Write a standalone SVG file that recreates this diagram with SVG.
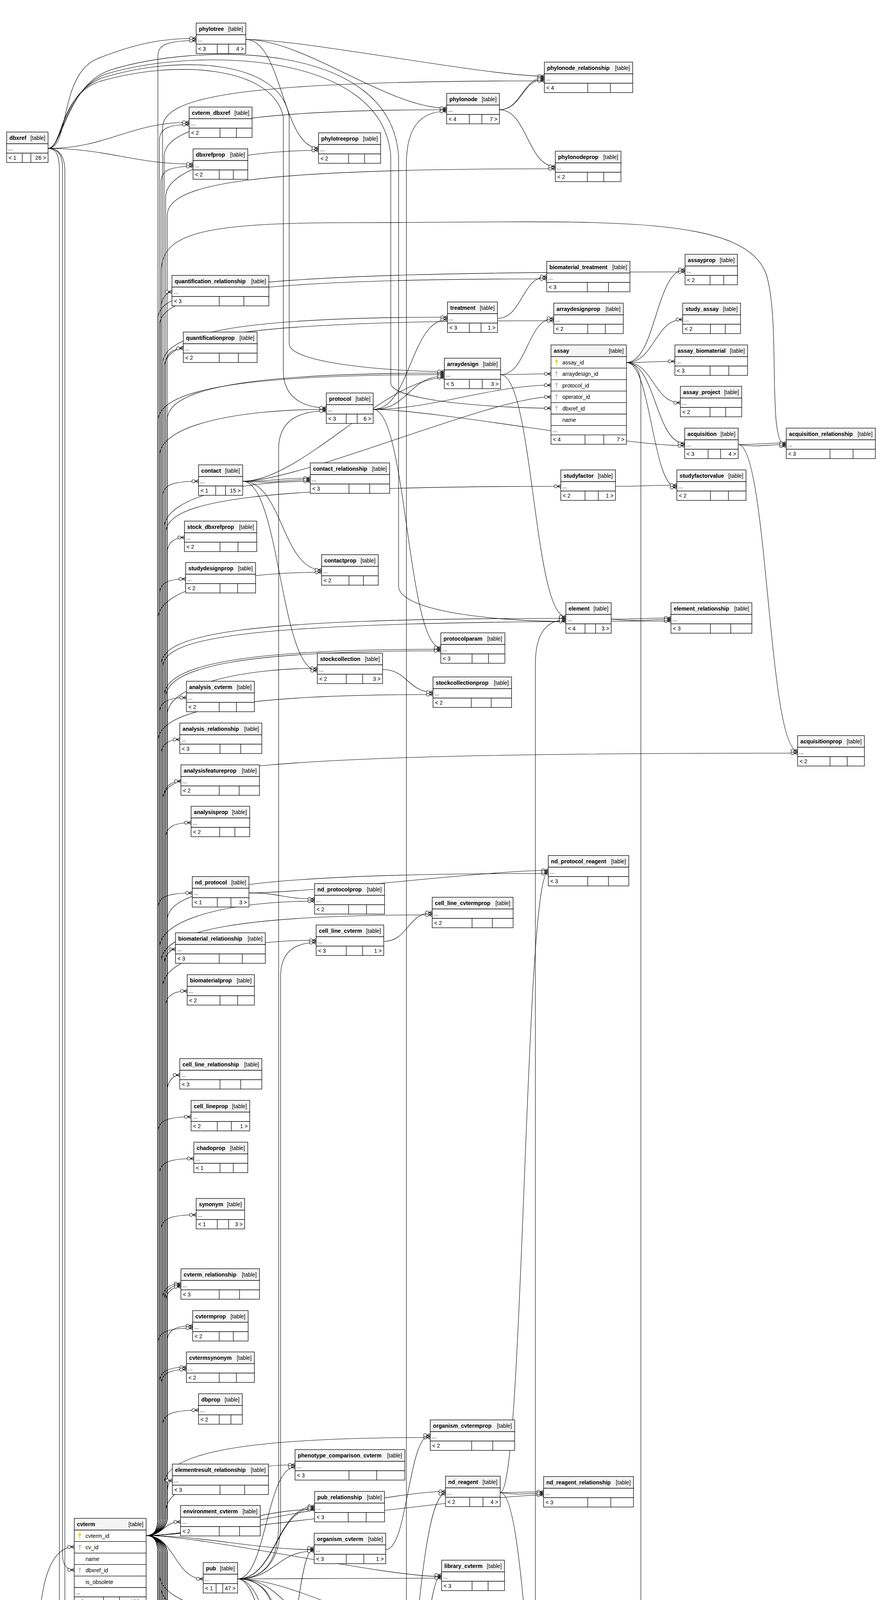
<svg xmlns="http://www.w3.org/2000/svg" xmlns:xlink="http://www.w3.org/1999/xlink" width="2257" height="7407" viewBox="0 0 2257 7407">
<style>
.hd{fill:#f4f4f4;stroke:#000;stroke-width:1.3}
.bd{fill:#fff;stroke:#000;stroke-width:1.3}
.ln{fill:none;stroke:#000;stroke-width:1.3}
text{font-family:"Liberation Sans",Arial,Helvetica,sans-serif;font-size:14px;fill:#000}
.tn{font-weight:bold;font-size:14.2px}
.tt,.tr{text-anchor:end}
#connectors path{fill:none;stroke:#000;stroke-width:1.1;marker-end:url(#cf)}
</style>
<defs>
<marker id="cf" markerUnits="userSpaceOnUse" viewBox="-19 -7 20 14" refX="0" refY="0" markerWidth="20" markerHeight="14" orient="auto" overflow="visible">
<path d="M-9 0L0 -4.5M-9 0L0 0M-9 0L0 4.5" fill="none" stroke="#000" stroke-width="1.2"/>
<circle cx="-13" cy="0" r="4" fill="#fff" stroke="#000" stroke-width="1.2"/>
</marker>
<g id="pk"><circle r="3.2" fill="#e6d800"/><path d="M0 2V11" stroke="#e6d800" stroke-width="2"/></g>
<g id="fk"><circle r="3.2" fill="#c4c4c4"/><path d="M0 2V11" stroke="#c4c4c4" stroke-width="2"/></g>
</defs>
<rect width="2257" height="7407" fill="#fff"/>
<g id="connectors">
<path d="M374 3931C396 3931 404 3915 404 3885V144C404 116 424 104 502 104"/>
<path d="M374 3931C396 3931 408 3915 408 3885V359C408 331 428 319 484 319"/>
<path d="M374 3931C396 3931 412 3915 412 3885V466C412 438 432 426 494 426"/>
<path d="M374 3931C396 3931 416 3915 416 3885V327C416 247 616 207 1393 207"/>
<path d="M374 3931C396 3931 420 3915 420 3885V401C420 321 620 281 1143 281"/>
<path d="M374 3931C396 3931 424 3915 424 3885V505C424 425 624 385 815 385"/>
<path d="M374 3931C396 3931 428 3915 428 3885V552C428 472 628 432 1421 432"/>
<path d="M374 3931C396 3931 404 3915 404 3885V816C404 736 604 696 1753 696"/>
<path d="M374 3931C396 3931 408 3915 408 3885V834C408 754 608 714 1399 714"/>
<path d="M374 3931C396 3931 412 3915 412 3885V787C412 759 432 747 440 747"/>
<path d="M374 3931C396 3931 416 3915 416 3885V932C416 852 616 812 1145 812"/>
<path d="M374 3931C396 3931 420 3915 420 3885V941C420 861 620 821 1417 821"/>
<path d="M374 3931C396 3931 424 3915 424 3885V932C424 904 444 892 469 892"/>
<path d="M374 3931C396 3931 428 3915 428 3885V1075C428 995 628 955 1137 955"/>
<path d="M374 3931C396 3931 404 3915 404 3885V1079C404 999 604 959 1137 959"/>
<path d="M374 3931C396 3931 408 3915 408 3885V1168C408 1088 608 1048 835 1048"/>
<path d="M374 3931C396 3931 412 3915 412 3885V700C412 600 500 570 900 570C1500 570 1900 540 1960 700C2000 820 1960 1142 2012 1142"/>
<path d="M374 3931C396 3931 416 3915 416 3885V1272C416 1244 436 1232 508 1232"/>
<path d="M374 3931C396 3931 420 3915 420 3885V1352C420 1272 620 1232 794 1232"/>
<path d="M374 3931C396 3931 424 3915 424 3885V1365C424 1285 624 1245 1435 1245"/>
<path d="M374 3931C396 3931 428 3915 428 3885V1416C428 1388 448 1376 472 1376"/>
<path d="M374 3931C396 3931 404 3915 404 3885V1585C404 1505 604 1465 823 1465"/>
<path d="M374 3931C396 3931 408 3915 408 3885V1522C408 1494 428 1482 475 1482"/>
<path d="M374 3931C396 3931 412 3915 412 3885V1703C412 1623 612 1583 1448 1583"/>
<path d="M374 3931C396 3931 416 3915 416 3885V1710C416 1630 616 1590 1717 1590"/>
<path d="M374 3931C396 3931 420 3915 420 3885V1782C420 1702 620 1662 1128 1662"/>
<path d="M374 3931C396 3931 424 3915 424 3885V1786C424 1706 624 1666 1128 1666"/>
<path d="M374 3931C396 3931 428 3915 428 3885V1831C428 1751 628 1711 812 1711"/>
<path d="M374 3931C396 3931 404 3915 404 3885V1898C404 1818 604 1778 1108 1778"/>
<path d="M374 3931C396 3931 408 3915 408 3885V1826C408 1798 428 1786 477 1786"/>
<path d="M374 3931C396 3931 412 3915 412 3885V1933C412 1905 432 1893 460 1893"/>
<path d="M374 3931C396 3931 416 3915 416 3885V2048C416 1968 616 1928 2041 1928"/>
<path d="M374 3931C396 3931 420 3915 420 3885V2040C420 2012 440 2000 463 2000"/>
<path d="M374 3931C396 3931 424 3915 424 3885V2146C424 2118 444 2106 489 2106"/>
<path d="M374 3931C396 3931 428 3915 428 3885V2356C428 2276 628 2236 1403 2236"/>
<path d="M374 3931C396 3931 404 3915 404 3885V2326C404 2298 424 2286 492 2286"/>
<path d="M374 3931C396 3931 408 3915 408 3885V2427C408 2347 608 2307 805 2307"/>
<path d="M374 3931C396 3931 412 3915 412 3885V2462C412 2382 612 2342 1106 2342"/>
<path d="M374 3931C396 3931 416 3915 416 3885V2527C416 2447 616 2407 809 2407"/>
<path d="M374 3931C396 3931 420 3915 420 3885V2470C420 2442 440 2430 449 2430"/>
<path d="M374 3931C396 3931 424 3915 424 3885V2577C424 2549 444 2537 479 2537"/>
<path d="M374 3931C396 3931 428 3915 428 3885V2792C428 2764 448 2752 460 2752"/>
<path d="M374 3931C396 3931 404 3915 404 3885V2899C404 2871 424 2859 489 2859"/>
<path d="M374 3931C396 3931 408 3915 408 3885V3006C408 2978 428 2966 496 2966"/>
<path d="M374 3931C396 3931 412 3915 412 3885V3150C412 3122 432 3110 502 3110"/>
<path d="M374 3931C396 3931 416 3915 416 3885V3326C416 3298 436 3286 463 3286"/>
<path d="M374 3931C396 3931 420 3915 420 3885V3330C420 3302 440 3290 463 3290"/>
<path d="M374 3931C396 3931 424 3915 424 3885V3334C424 3306 444 3294 463 3294"/>
<path d="M374 3931C396 3931 428 3915 428 3885V3434C428 3406 448 3394 493 3394"/>
<path d="M374 3931C396 3931 404 3915 404 3885V3440C404 3412 424 3400 493 3400"/>
<path d="M374 3931C396 3931 408 3915 408 3885V3540C408 3512 428 3500 477 3500"/>
<path d="M374 3931C396 3931 412 3915 412 3885V3546C412 3518 432 3506 477 3506"/>
<path d="M374 3931C396 3931 416 3915 416 3885V3650C416 3622 436 3610 508 3610"/>
<path d="M374 3931C396 3931 420 3915 420 3885V3800C420 3720 620 3680 1101 3680"/>
<path d="M374 3931C396 3931 424 3915 424 3885V3870C424 3790 624 3750 755 3750"/>
<path d="M374 3931C396 3931 428 3915 428 3885V3830C428 3802 432 3790 441 3790"/>
<path d="M374 3931C520 3931 990 3818 1140 3818"/>
<path d="M374 3931C520 3931 1241 3827 1391 3827"/>
<path d="M374 3931C520 3931 655 3864 805 3864"/>
<path d="M374 3931C418 3931 418 3896 462 3896"/>
<path d="M374 3931C520 3931 654 3967 804 3967"/>
<path d="M374 3931C447 3931 447 4042 520 4042"/>
<path d="M374 3931C520 3931 980 4036 1130 4036"/>
<path d="M374 3931C396 3931 404 3947 404 3977V4107C404 4135 424 4147 479 4147"/>
<path d="M374 3931C396 3931 408 3947 408 3977V4030C408 4110 608 4150 836 4150"/>
<path d="M374 3931C396 3931 412 3947 412 3977V4063C412 4143 612 4183 1132 4183"/>
<path d="M374 3931C396 3931 416 3947 416 3977V4099C416 4179 616 4219 1412 4219"/>
<path d="M374 3931C396 3931 420 3947 420 3977V4323C420 4351 440 4363 452 4363"/>
<path d="M374 3931C396 3931 424 3947 424 3977V4504C424 4532 444 4544 477 4544"/>
<path d="M374 3931C396 3931 428 3947 428 3977V4459C428 4539 628 4579 831 4579"/>
<path d="M374 3931C396 3931 404 3947 404 3977V4473C404 4553 604 4593 1418 4593"/>
<path d="M374 3931C396 3931 408 3947 408 3977V4684C408 4712 428 4724 501 4724"/>
<path d="M374 3931C396 3931 412 3947 412 3977V4638C412 4718 612 4758 813 4758"/>
<path d="M374 3931C396 3931 416 3947 416 3977V4706C416 4786 616 4826 1119 4826"/>
<path d="M374 3931C396 3931 420 3947 420 3977V4863C420 4891 440 4903 480 4903"/>
<path d="M374 3931C396 3931 424 3947 424 3977V4920C424 5000 624 5040 841 5040"/>
<path d="M374 3931C396 3931 428 3947 428 3977V4929C428 5009 628 5049 1110 5049"/>
<path d="M374 3931C396 3931 404 3947 404 3977V5043C404 5071 424 5083 452 5083"/>
<path d="M374 3931C396 3931 408 3947 408 3977V5070C408 5150 608 5190 816 5190"/>
<path d="M374 3931C396 3931 412 3947 412 3977V5151C412 5179 432 5191 467 5191"/>
<path d="M374 3931C396 3931 416 3947 416 3977V5139C416 5219 616 5259 1384 5259"/>
<path d="M374 3931C396 3931 420 3947 420 3977V5177C420 5257 620 5297 782 5297"/>
<path d="M374 3931C396 3931 424 3947 424 3977V5217C424 5297 624 5337 1115 5337"/>
<path d="M374 3931C396 3931 428 3947 428 3977V5327C428 5355 448 5367 468 5367"/>
<path d="M374 3931C396 3931 404 3947 404 3977V5333C404 5361 424 5373 468 5373"/>
<path d="M374 3931C396 3931 408 3947 408 3977V5284C408 5364 608 5404 815 5404"/>
<path d="M374 3931C396 3931 412 3947 412 3977V5322C412 5402 612 5442 1139 5442"/>
<path d="M374 3931C396 3931 416 3947 416 3977V5391C416 5471 616 5511 787 5511"/>
<path d="M374 3931C396 3931 420 3947 420 3977V5510C420 5538 440 5550 501 5550"/>
<path d="M374 3931C396 3931 424 3947 424 3977V5426C424 5506 624 5546 1127 5546"/>
<path d="M374 3931C396 3931 428 3947 428 3977V5479C428 5559 628 5599 1390 5599"/>
<path d="M374 3931C396 3931 404 3947 404 3977V5494C404 5574 604 5614 828 5614"/>
<path d="M374 3931C396 3931 408 3947 408 3977V5537C408 5617 608 5657 1105 5657"/>
<path d="M374 3931C396 3931 412 3947 412 3977V5690C412 5718 432 5730 464 5730"/>
<path d="M374 3931C396 3931 416 3947 416 3977V5643C416 5723 616 5763 1132 5763"/>
<path d="M374 3931C396 3931 420 3947 420 3977V5720C420 5800 620 5840 1407 5840"/>
<path d="M374 3931C396 3931 424 3947 424 3977V5787C424 5867 624 5907 1114 5907"/>
<path d="M374 3931C396 3931 428 3947 428 3977V5814C428 5894 628 5934 845 5934"/>
<path d="M374 3931C396 3931 404 3947 404 3977V5893C404 5973 604 6013 1144 6013"/>
<path d="M374 3931C396 3931 408 3947 408 3977V5958C408 6038 608 6078 1383 6078"/>
<path d="M374 3931C396 3931 412 3947 412 3977V6067C412 6147 612 6187 844 6187"/>
<path d="M374 3931C396 3931 416 3947 416 3977V6074C416 6154 616 6194 1110 6194"/>
<path d="M374 3931C396 3931 420 3947 420 3977V6256C420 6284 440 6296 481 6296"/>
<path d="M374 3931C396 3931 424 3947 424 3977V6179C424 6259 624 6299 780 6299"/>
<path d="M374 3931C396 3931 428 3947 428 3977V6269C428 6349 628 6389 1140 6389"/>
<path d="M374 3931C396 3931 404 3947 404 3977V6286C404 6366 604 6406 796 6406"/>
<path d="M374 3931C396 3931 408 3947 408 3977V6502C408 6582 608 6622 808 6622"/>
<path d="M374 3931C396 3931 412 3947 412 3977V6596C412 6624 432 6636 495 6636"/>
<path d="M374 3931C396 3931 416 3947 416 3977V6571C416 6651 616 6691 1117 6691"/>
<path d="M374 3931C396 3931 420 3947 420 3977V6587C420 6667 620 6707 1695 6707"/>
<path d="M374 3931C396 3931 424 3947 424 3977V6813C424 6841 444 6853 464 6853"/>
<path d="M374 3931C396 3931 428 3947 428 3977V6822C428 6902 628 6942 800 6942"/>
<path d="M374 3931C396 3931 404 3947 404 3977V6919C404 6947 424 6959 494 6959"/>
<path d="M374 3931C396 3931 408 3947 408 3977V7020C408 7048 428 7060 497 7060"/>
<path d="M374 3931C396 3931 412 3947 412 3977V7024C412 7052 432 7064 497 7064"/>
<path d="M374 3931C396 3931 416 3947 416 3977V7028C416 7056 436 7068 497 7068"/>
<path d="M374 3931C396 3931 420 3947 420 3977V7032C420 7060 440 7072 497 7072"/>
<path d="M374 3931C396 3931 424 3947 424 3977V6982C424 7062 624 7102 811 7102"/>
<path d="M374 3931C396 3931 428 3947 428 3977V7167C428 7195 448 7207 495 7207"/>
<path d="M374 3931C396 3931 404 3947 404 3977V7171C404 7199 424 7211 495 7211"/>
<path d="M374 3931C396 3931 408 3947 408 3977V7175C408 7203 428 7215 495 7215"/>
<path d="M374 3931C396 3931 412 3947 412 3977V7279C412 7307 432 7319 509 7319"/>
<path d="M123 380C180 380 150 190 250 150C350 110 420 98 502 98"/>
<path d="M123 380C273 380 334 313 484 313"/>
<path d="M123 380C273 380 344 420 494 420"/>
<path d="M123 380C160 380 150 250 250 210C450 150 700 170 725 300V950C725 1020 780 1044 835 1044"/>
<path d="M123 380C160 380 155 240 260 200C450 140 720 150 740 300V880C740 930 1000 951 1137 951"/>
<path d="M123 380C160 380 165 230 270 190C500 120 980 130 1000 400V980C1000 1030 1300 1045 1410 1045"/>
<path d="M123 380C160 380 170 220 280 180C500 110 1000 100 1020 400V1500C1020 1570 1300 1591 1448 1591"/>
<path d="M123 380C150 380 160 400 160 430V3980C160 4005 170 4019 190 4019"/>
<path d="M123 380C152 380 166 400 166 440V4900C166 5000 700 5048 841 5048"/>
<path d="M123 380C146 380 152 400 152 440V5750C152 5880 700 5942 845 5942"/>
<path d="M109 7209C160 7209 200 7150 200 7000V6000C200 5000 100 4600 100 4200C100 4050 130 3960 190 3960"/>
<path d="M109 7209C300 7209 345 7203 495 7203"/>
<path d="M109 7209C300 7209 359 7313 509 7313"/>
<path d="M629 101C779 101 993 277 1143 277"/>
<path d="M629 101C779 101 1243 195 1393 195"/>
<path d="M629 101C722 101 722 379 815 379"/>
<path d="M1278 281C1335 281 1336 199 1393 199"/>
<path d="M1278 281C1335 281 1336 203 1393 203"/>
<path d="M1278 281C1349 281 1350 426 1421 426"/>
<path d="M948 5044C1000 5044 1040 5000 1040 4900V420C1040 320 1080 285 1143 285"/>
<path d="M948 5044C1200 5044 1370 4950 1370 4800V1700C1370 1620 1400 1587 1448 1587"/>
<path d="M948 5044C1044 5044 1044 3824 1140 3824"/>
<path d="M948 5044C1029 5044 1029 5041 1110 5041"/>
<path d="M948 5044C1029 5050 1029 5045 1110 5045"/>
<path d="M948 5044C1033 5044 1034 4814 1119 4814"/>
<path d="M948 5044C1033 5044 1034 4818 1119 4818"/>
<path d="M948 5044C1043 5044 1044 5436 1139 5436"/>
<path d="M948 5044C1038 5044 1037 5542 1127 5542"/>
<path d="M948 5044C1031 5044 1032 5333 1115 5333"/>
<path d="M948 5044C1040 5044 1040 5759 1132 5759"/>
<path d="M627 5550C734 5550 734 5044 841 5044"/>
<path d="M627 5550C721 5550 721 5398 815 5398"/>
<path d="M627 5550C707 5550 707 5503 787 5503"/>
<path d="M627 5550C707 5550 707 5507 787 5507"/>
<path d="M627 5550C716 5550 715 3963 804 3963"/>
<path d="M627 5550C736 5550 736 5938 845 5938"/>
<path d="M627 5550C736 5550 735 6193 844 6193"/>
<path d="M608 4042C680 4042 713 3990 713 3900V1150C713 1080 760 1052 835 1052"/>
<path d="M608 4042C680 4042 718 3990 718 3900V2500C718 2440 750 2413 809 2413"/>
<path d="M608 4042C681 4042 682 3756 755 3756"/>
<path d="M608 4042C706 4042 707 3856 805 3856"/>
<path d="M608 4042C706 4042 707 3860 805 3860"/>
<path d="M608 4042C706 4042 706 3971 804 3971"/>
<path d="M608 4042C758 4042 980 4040 1130 4040"/>
<path d="M608 4042C722 4042 722 4144 836 4144"/>
<path d="M608 4042C758 4042 982 4187 1132 4187"/>
<path d="M608 4042C719 4042 720 4583 831 4583"/>
<path d="M608 4042C710 4042 711 4762 813 4762"/>
<path d="M608 4042C680 4042 713 4100 713 4200V5450C713 5520 1000 5550 1127 5550"/>
<path d="M608 4042C680 4042 708 4100 708 4200V5950C708 6040 1200 6082 1383 6082"/>
<path d="M621 1232C707 1232 708 1224 794 1224"/>
<path d="M621 1232C707 1238 708 1228 794 1228"/>
<path d="M621 1232C722 1232 722 1459 823 1459"/>
<path d="M621 1232C716 1232 717 1717 812 1717"/>
<path d="M621 1232C771 1232 987 967 1137 967"/>
<path d="M621 1232C771 1232 1260 1016 1410 1016"/>
<path d="M955 1048C1050 1048 1050 818 1145 818"/>
<path d="M955 1048C1046 1048 1046 963 1137 963"/>
<path d="M955 1048C1105 1048 1260 986 1410 986"/>
<path d="M955 1048C1105 1048 1602 1141 1752 1141"/>
<path d="M955 1048C1041 1048 1042 1658 1128 1658"/>
<path d="M1273 815C1336 815 1336 708 1399 708"/>
<path d="M1281 959C1349 959 1349 815 1417 815"/>
<path d="M1281 959C1345 959 1346 957 1410 957"/>
<path d="M1281 959C1364 959 1365 1579 1448 1579"/>
<path d="M1603 928C1678 928 1678 690 1753 690"/>
<path d="M1603 928C1675 928 1675 818 1747 818"/>
<path d="M1603 928C1665 928 1665 925 1727 925"/>
<path d="M1603 928C1672 928 1672 1031 1741 1031"/>
<path d="M1603 928C1677 928 1678 1135 1752 1135"/>
<path d="M1603 928C1667 928 1668 1248 1732 1248"/>
<path d="M1603 928C1625 928 1640 950 1640 990V6680C1640 6715 1660 6736 1695 6736"/>
<path d="M1889 1138C1950 1138 1951 1134 2012 1134"/>
<path d="M1889 1138C1950 1146 1951 1138 2012 1138"/>
<path d="M1889 1138C1965 1138 1965 1922 2041 1922"/>
<path d="M1575 1245C1653 1245 1654 1242 1732 1242"/>
<path d="M1564 1585C1640 1585 1641 1582 1717 1582"/>
<path d="M1564 1585C1640 1592 1641 1586 1717 1586"/>
<path d="M979 1714C1043 1714 1044 1772 1108 1772"/>
<path d="M637 2286C721 2286 721 2301 805 2301"/>
<path d="M637 2286C787 2286 1253 2228 1403 2228"/>
<path d="M1280 3821C1341 3821 1342 2232 1403 2232"/>
<path d="M1280 3821C1335 3821 1336 3819 1391 3819"/>
<path d="M1280 3821C1335 3828 1336 3823 1391 3823"/>
<path d="M1280 3821C1349 3821 1349 4587 1418 4587"/>
<path d="M982 2410C1044 2410 1044 2336 1106 2336"/>
<path d="M987 3967C1044 3967 1044 3674 1101 3674"/>
<path d="M1286 4183C1349 4183 1349 4213 1412 4213"/>
<path d="M626 4724C728 4724 729 4575 831 4575"/>
<path d="M626 4724C719 4724 720 4754 813 4754"/>
<path d="M626 4724C776 4724 969 4822 1119 4822"/>
<path d="M626 4724C721 4724 721 5184 816 5184"/>
<path d="M1310 5044C1350 5044 1350 5593 1390 5593"/>
<path d="M661 5370C721 5370 722 5291 782 5291"/>
<path d="M1292 5546C1349 5546 1350 5834 1407 5834"/>
<path d="M961 5614C1038 5614 1038 5329 1115 5329"/>
<path d="M1315 5653C1350 5653 1349 5253 1384 5253"/>
<path d="M943 5938C1028 5938 1029 5899 1114 5899"/>
<path d="M943 5938C1028 5944 1029 5903 1114 5903"/>
<path d="M943 5938C1043 5938 1044 6007 1144 6007"/>
<path d="M943 5938C1037 5938 1038 5755 1132 5755"/>
<path d="M943 5938C1024 5938 1024 5649 1105 5649"/>
<path d="M943 5938C1037 5938 1038 4179 1132 4179"/>
<path d="M943 5938C1030 5938 1030 6683 1117 6683"/>
<path d="M1304 5903C1344 5903 1343 6074 1383 6074"/>
<path d="M948 6190C1029 6190 1029 6186 1110 6186"/>
<path d="M948 6190C1029 6196 1029 6190 1110 6190"/>
<path d="M948 6190C1044 6190 1044 6383 1140 6383"/>
<path d="M948 6190C1039 6190 1039 4032 1130 4032"/>
<path d="M646 6296C713 6296 713 6293 780 6293"/>
<path d="M646 6296C721 6296 721 6400 796 6400"/>
<path d="M646 6296C796 6296 955 5653 1105 5653"/>
<path d="M634 6636C721 6636 721 6616 808 6616"/>
<path d="M634 6636C784 6636 967 6687 1117 6687"/>
<path d="M631 7066C716 7066 715 6936 800 6936"/>
<path d="M631 7066C721 7066 721 7096 811 7096"/>
<path d="M631 7066C722 7066 722 4766 813 4766"/>
<path d="M1605 6891C1650 6891 1650 6766 1695 6766"/>
<path d="M1605 6891C1662 6891 1662 6994 1719 6994"/>
</g>
<g id="t-phylotree" transform="translate(502 59)"><rect class="hd" width="127" height="30"/><rect class="bd" y="30" width="127" height="48"/><path class="ln" d="M0 54H127M54 54V78M83 54V78"/><text class="tn" x="7" y="20">phylotree</text><text class="tt" x="120" y="20">[table]</text><text x="4" y="47">...</text><text x="5" y="71">&lt; 3</text><text class="tr" x="122" y="71">4 &gt;</text></g>
<g id="t-dbxref" transform="translate(17 338)"><rect class="hd" width="106" height="30"/><rect class="bd" y="30" width="106" height="48"/><path class="ln" d="M0 54H106M40 54V78M62 54V78"/><text class="tn" x="7" y="20">dbxref</text><text class="tt" x="99" y="20">[table]</text><text x="4" y="47">...</text><text x="5" y="71">&lt; 1</text><text class="tr" x="101" y="71">26 &gt;</text></g>
<g id="t-cvterm_dbxref" transform="translate(484 274)"><rect class="hd" width="161" height="30"/><rect class="bd" y="30" width="161" height="48"/><path class="ln" d="M0 54H161M79 54V78M121 54V78"/><text class="tn" x="7" y="20">cvterm_dbxref</text><text class="tt" x="154" y="20">[table]</text><text x="4" y="47">...</text><text x="5" y="71">&lt; 2</text></g>
<g id="t-dbxrefprop" transform="translate(494 381)"><rect class="hd" width="140" height="30"/><rect class="bd" y="30" width="140" height="48"/><path class="ln" d="M0 54H140M67 54V78M103 54V78"/><text class="tn" x="7" y="20">dbxrefprop</text><text class="tt" x="133" y="20">[table]</text><text x="4" y="47">...</text><text x="5" y="71">&lt; 2</text></g>
<g id="t-phylotreeprop" transform="translate(815 340)"><rect class="hd" width="159" height="30"/><rect class="bd" y="30" width="159" height="48"/><path class="ln" d="M0 54H159M77 54V78M118 54V78"/><text class="tn" x="7" y="20">phylotreeprop</text><text class="tt" x="152" y="20">[table]</text><text x="4" y="47">...</text><text x="5" y="71">&lt; 2</text></g>
<g id="t-quantification_relationship" transform="translate(440 705)"><rect class="hd" width="248" height="30"/><rect class="bd" y="30" width="248" height="48"/><path class="ln" d="M0 54H248M121 54V78M184 54V78"/><text class="tn" x="7" y="20">quantification_relationship</text><text class="tt" x="241" y="20">[table]</text><text x="4" y="47">...</text><text x="5" y="71">&lt; 3</text></g>
<g id="t-quantificationprop" transform="translate(469 850)"><rect class="hd" width="189" height="30"/><rect class="bd" y="30" width="189" height="48"/><path class="ln" d="M0 54H189M92 54V78M141 54V78"/><text class="tn" x="7" y="20">quantificationprop</text><text class="tt" x="182" y="20">[table]</text><text x="4" y="47">...</text><text x="5" y="71">&lt; 2</text></g>
<g id="t-protocol" transform="translate(835 1006)"><rect class="hd" width="120" height="30"/><rect class="bd" y="30" width="120" height="48"/><path class="ln" d="M0 54H120M51 54V78M79 54V78"/><text class="tn" x="7" y="20">protocol</text><text class="tt" x="113" y="20">[table]</text><text x="4" y="47">...</text><text x="5" y="71">&lt; 3</text><text class="tr" x="115" y="71">6 &gt;</text></g>
<g id="t-contact" transform="translate(508 1190)"><rect class="hd" width="113" height="30"/><rect class="bd" y="30" width="113" height="48"/><path class="ln" d="M0 54H113M44 54V78M69 54V78"/><text class="tn" x="7" y="20">contact</text><text class="tt" x="106" y="20">[table]</text><text x="4" y="47">...</text><text x="5" y="71">&lt; 1</text><text class="tr" x="108" y="71">15 &gt;</text></g>
<g id="t-contact_relationship" transform="translate(794 1185)"><rect class="hd" width="203" height="30"/><rect class="bd" y="30" width="203" height="48"/><path class="ln" d="M0 54H203M99 54V78M152 54V78"/><text class="tn" x="7" y="20">contact_relationship</text><text class="tt" x="196" y="20">[table]</text><text x="4" y="47">...</text><text x="5" y="71">&lt; 3</text></g>
<g id="t-phylonode_relationship" transform="translate(1393 159)"><rect class="hd" width="226" height="30"/><rect class="bd" y="30" width="226" height="48"/><path class="ln" d="M0 54H226M111 54V78M169 54V78"/><text class="tn" x="7" y="20">phylonode_relationship</text><text class="tt" x="219" y="20">[table]</text><text x="4" y="47">...</text><text x="5" y="71">&lt; 4</text></g>
<g id="t-phylonode" transform="translate(1143 239)"><rect class="hd" width="135" height="30"/><rect class="bd" y="30" width="135" height="48"/><path class="ln" d="M0 54H135M58 54V78M90 54V78"/><text class="tn" x="7" y="20">phylonode</text><text class="tt" x="128" y="20">[table]</text><text x="4" y="47">...</text><text x="5" y="71">&lt; 4</text><text class="tr" x="130" y="71">7 &gt;</text></g>
<g id="t-phylonodeprop" transform="translate(1421 387)"><rect class="hd" width="168" height="30"/><rect class="bd" y="30" width="168" height="48"/><path class="ln" d="M0 54H168M82 54V78M124 54V78"/><text class="tn" x="7" y="20">phylonodeprop</text><text class="tt" x="161" y="20">[table]</text><text x="4" y="47">...</text><text x="5" y="71">&lt; 2</text></g>
<g id="t-assayprop" transform="translate(1753 651)"><rect class="hd" width="134" height="30"/><rect class="bd" y="30" width="134" height="48"/><path class="ln" d="M0 54H134M64 54V78M99 54V78"/><text class="tn" x="7" y="20">assayprop</text><text class="tt" x="127" y="20">[table]</text><text x="4" y="47">...</text><text x="5" y="71">&lt; 2</text></g>
<g id="t-biomaterial_treatment" transform="translate(1399 669)"><rect class="hd" width="213" height="30"/><rect class="bd" y="30" width="213" height="48"/><path class="ln" d="M0 54H213M104 54V78M158 54V78"/><text class="tn" x="7" y="20">biomaterial_treatment</text><text class="tt" x="206" y="20">[table]</text><text x="4" y="47">...</text><text x="5" y="71">&lt; 3</text></g>
<g id="t-treatment" transform="translate(1145 773)"><rect class="hd" width="128" height="30"/><rect class="bd" y="30" width="128" height="48"/><path class="ln" d="M0 54H128M56 54V78M86 54V78"/><text class="tn" x="7" y="20">treatment</text><text class="tt" x="121" y="20">[table]</text><text x="4" y="47">...</text><text x="5" y="71">&lt; 3</text><text class="tr" x="123" y="71">1 &gt;</text></g>
<g id="t-arraydesignprop" transform="translate(1417 776)"><rect class="hd" width="178" height="30"/><rect class="bd" y="30" width="178" height="48"/><path class="ln" d="M0 54H178M87 54V78M132 54V78"/><text class="tn" x="7" y="20">arraydesignprop</text><text class="tt" x="171" y="20">[table]</text><text x="4" y="47">...</text><text x="5" y="71">&lt; 2</text></g>
<g id="t-study_assay" transform="translate(1747 776)"><rect class="hd" width="148" height="30"/><rect class="bd" y="30" width="148" height="48"/><path class="ln" d="M0 54H148M71 54V78M109 54V78"/><text class="tn" x="7" y="20">study_assay</text><text class="tt" x="141" y="20">[table]</text><text x="4" y="47">...</text><text x="5" y="71">&lt; 2</text></g>
<g id="t-arraydesign" transform="translate(1137 917)"><rect class="hd" width="144" height="30"/><rect class="bd" y="30" width="144" height="48"/><path class="ln" d="M0 54H144M64 54V78M97 54V78"/><text class="tn" x="7" y="20">arraydesign</text><text class="tt" x="137" y="20">[table]</text><text x="4" y="47">...</text><text x="5" y="71">&lt; 5</text><text class="tr" x="139" y="71">3 &gt;</text></g>
<g id="t-assay" transform="translate(1410 883)"><rect class="hd" width="193" height="30"/><rect class="bd" y="30" width="193" height="224.4"/><path class="ln" d="M0 59.4H193M0 88.8H193M0 118.2H193M0 147.6H193M0 177H193M0 206.4H193M0 230.4H193M87 230.4V254.4M135 230.4V254.4"/><text class="tn" x="7" y="20">assay</text><text class="tt" x="186" y="20">[table]</text><use href="#pk" x="14" y="41"/><use href="#fk" x="14" y="70.4"/><use href="#fk" x="14" y="99.8"/><use href="#fk" x="14" y="129.2"/><use href="#fk" x="14" y="158.6"/><text x="29" y="50">assay_id</text><text x="29" y="79.4">arraydesign_id</text><text x="29" y="108.8">protocol_id</text><text x="29" y="138.2">operator_id</text><text x="29" y="167.6">dbxref_id</text><text x="29" y="197">name</text><text x="4" y="223.4">...</text><text x="5" y="247.4">&lt; 4</text><text class="tr" x="188" y="247.4">7 &gt;</text></g>
<g id="t-assay_biomaterial" transform="translate(1727 883)"><rect class="hd" width="186" height="30"/><rect class="bd" y="30" width="186" height="48"/><path class="ln" d="M0 54H186M90 54V78M138 54V78"/><text class="tn" x="7" y="20">assay_biomaterial</text><text class="tt" x="179" y="20">[table]</text><text x="4" y="47">...</text><text x="5" y="71">&lt; 3</text></g>
<g id="t-assay_project" transform="translate(1741 989)"><rect class="hd" width="157" height="30"/><rect class="bd" y="30" width="157" height="48"/><path class="ln" d="M0 54H157M76 54V78M116 54V78"/><text class="tn" x="7" y="20">assay_project</text><text class="tt" x="150" y="20">[table]</text><text x="4" y="47">...</text><text x="5" y="71">&lt; 2</text></g>
<g id="t-acquisition" transform="translate(1752 1096)"><rect class="hd" width="137" height="30"/><rect class="bd" y="30" width="137" height="48"/><path class="ln" d="M0 54H137M60 54V78M92 54V78"/><text class="tn" x="7" y="20">acquisition</text><text class="tt" x="130" y="20">[table]</text><text x="4" y="47">...</text><text x="5" y="71">&lt; 3</text><text class="tr" x="132" y="71">4 &gt;</text></g>
<g id="t-acquisition_relationship" transform="translate(2012 1096)"><rect class="hd" width="228" height="30"/><rect class="bd" y="30" width="228" height="48"/><path class="ln" d="M0 54H228M112 54V78M171 54V78"/><text class="tn" x="7" y="20">acquisition_relationship</text><text class="tt" x="221" y="20">[table]</text><text x="4" y="47">...</text><text x="5" y="71">&lt; 3</text></g>
<g id="t-studyfactor" transform="translate(1435 1203)"><rect class="hd" width="140" height="30"/><rect class="bd" y="30" width="140" height="48"/><path class="ln" d="M0 54H140M62 54V78M96 54V78"/><text class="tn" x="7" y="20">studyfactor</text><text class="tt" x="133" y="20">[table]</text><text x="4" y="47">...</text><text x="5" y="71">&lt; 2</text><text class="tr" x="135" y="71">1 &gt;</text></g>
<g id="t-studyfactorvalue" transform="translate(1732 1203)"><rect class="hd" width="177" height="30"/><rect class="bd" y="30" width="177" height="48"/><path class="ln" d="M0 54H177M86 54V78M132 54V78"/><text class="tn" x="7" y="20">studyfactorvalue</text><text class="tt" x="170" y="20">[table]</text><text x="4" y="47">...</text><text x="5" y="71">&lt; 2</text></g>
<g id="t-stock_dbxrefprop" transform="translate(472 1334)"><rect class="hd" width="185" height="30"/><rect class="bd" y="30" width="185" height="48"/><path class="ln" d="M0 54H185M91 54V78M137 54V78"/><text class="tn" x="7" y="20">stock_dbxrefprop</text><text class="tt" x="178" y="20">[table]</text><text x="4" y="47">...</text><text x="5" y="71">&lt; 2</text></g>
<g id="t-studydesignprop" transform="translate(475 1440)"><rect class="hd" width="179" height="30"/><rect class="bd" y="30" width="179" height="48"/><path class="ln" d="M0 54H179M88 54V78M133 54V78"/><text class="tn" x="7" y="20">studydesignprop</text><text class="tt" x="172" y="20">[table]</text><text x="4" y="47">...</text><text x="5" y="71">&lt; 2</text></g>
<g id="t-contactprop" transform="translate(823 1420)"><rect class="hd" width="145" height="30"/><rect class="bd" y="30" width="145" height="48"/><path class="ln" d="M0 54H145M70 54V78M107 54V78"/><text class="tn" x="7" y="20">contactprop</text><text class="tt" x="138" y="20">[table]</text><text x="4" y="47">...</text><text x="5" y="71">&lt; 2</text></g>
<g id="t-stockcollection" transform="translate(812 1672)"><rect class="hd" width="167" height="30"/><rect class="bd" y="30" width="167" height="48"/><path class="ln" d="M0 54H167M74 54V78M116 54V78"/><text class="tn" x="7" y="20">stockcollection</text><text class="tt" x="160" y="20">[table]</text><text x="4" y="47">...</text><text x="5" y="71">&lt; 2</text><text class="tr" x="162" y="71">3 &gt;</text></g>
<g id="t-protocolparam" transform="translate(1128 1620)"><rect class="hd" width="164" height="30"/><rect class="bd" y="30" width="164" height="48"/><path class="ln" d="M0 54H164M80 54V78M122 54V78"/><text class="tn" x="7" y="20">protocolparam</text><text class="tt" x="157" y="20">[table]</text><text x="4" y="47">...</text><text x="5" y="71">&lt; 3</text></g>
<g id="t-stockcollectionprop" transform="translate(1108 1733)"><rect class="hd" width="201" height="30"/><rect class="bd" y="30" width="201" height="48"/><path class="ln" d="M0 54H201M98 54V78M149 54V78"/><text class="tn" x="7" y="20">stockcollectionprop</text><text class="tt" x="194" y="20">[table]</text><text x="4" y="47">...</text><text x="5" y="71">&lt; 2</text></g>
<g id="t-element" transform="translate(1448 1543)"><rect class="hd" width="116" height="30"/><rect class="bd" y="30" width="116" height="48"/><path class="ln" d="M0 54H116M49 54V78M76 54V78"/><text class="tn" x="7" y="20">element</text><text class="tt" x="109" y="20">[table]</text><text x="4" y="47">...</text><text x="5" y="71">&lt; 4</text><text class="tr" x="111" y="71">3 &gt;</text></g>
<g id="t-element_relationship" transform="translate(1717 1543)"><rect class="hd" width="207" height="30"/><rect class="bd" y="30" width="207" height="48"/><path class="ln" d="M0 54H207M101 54V78M153 54V78"/><text class="tn" x="7" y="20">element_relationship</text><text class="tt" x="200" y="20">[table]</text><text x="4" y="47">...</text><text x="5" y="71">&lt; 3</text></g>
<g id="t-analysis_cvterm" transform="translate(477 1744)"><rect class="hd" width="174" height="30"/><rect class="bd" y="30" width="174" height="48"/><path class="ln" d="M0 54H174M84 54V78M128 54V78"/><text class="tn" x="7" y="20">analysis_cvterm</text><text class="tt" x="167" y="20">[table]</text><text x="4" y="47">...</text><text x="5" y="71">&lt; 2</text></g>
<g id="t-analysis_relationship" transform="translate(460 1851)"><rect class="hd" width="210" height="30"/><rect class="bd" y="30" width="210" height="48"/><path class="ln" d="M0 54H210M103 54V78M156 54V78"/><text class="tn" x="7" y="20">analysis_relationship</text><text class="tt" x="203" y="20">[table]</text><text x="4" y="47">...</text><text x="5" y="71">&lt; 3</text></g>
<g id="t-analysisfeatureprop" transform="translate(463 1958)"><rect class="hd" width="201" height="30"/><rect class="bd" y="30" width="201" height="48"/><path class="ln" d="M0 54H201M98 54V78M149 54V78"/><text class="tn" x="7" y="20">analysisfeatureprop</text><text class="tt" x="194" y="20">[table]</text><text x="4" y="47">...</text><text x="5" y="71">&lt; 2</text></g>
<g id="t-analysisprop" transform="translate(489 2064)"><rect class="hd" width="150" height="30"/><rect class="bd" y="30" width="150" height="48"/><path class="ln" d="M0 54H150M73 54V78M112 54V78"/><text class="tn" x="7" y="20">analysisprop</text><text class="tt" x="143" y="20">[table]</text><text x="4" y="47">...</text><text x="5" y="71">&lt; 2</text></g>
<g id="t-acquisitionprop" transform="translate(2041 1883)"><rect class="hd" width="171" height="30"/><rect class="bd" y="30" width="171" height="48"/><path class="ln" d="M0 54H171M83 54V78M127 54V78"/><text class="tn" x="7" y="20">acquisitionprop</text><text class="tt" x="164" y="20">[table]</text><text x="4" y="47">...</text><text x="5" y="71">&lt; 2</text></g>
<g id="t-nd_protocol" transform="translate(492 2244)"><rect class="hd" width="145" height="30"/><rect class="bd" y="30" width="145" height="48"/><path class="ln" d="M0 54H145M64 54V78M99 54V78"/><text class="tn" x="7" y="20">nd_protocol</text><text class="tt" x="138" y="20">[table]</text><text x="4" y="47">...</text><text x="5" y="71">&lt; 1</text><text class="tr" x="140" y="71">3 &gt;</text></g>
<g id="t-nd_protocolprop" transform="translate(805 2262)"><rect class="hd" width="179" height="30"/><rect class="bd" y="30" width="179" height="48"/><path class="ln" d="M0 54H179M87 54V78M133 54V78"/><text class="tn" x="7" y="20">nd_protocolprop</text><text class="tt" x="172" y="20">[table]</text><text x="4" y="47">...</text><text x="5" y="71">&lt; 2</text></g>
<g id="t-nd_protocol_reagent" transform="translate(1403 2190)"><rect class="hd" width="206" height="30"/><rect class="bd" y="30" width="206" height="48"/><path class="ln" d="M0 54H206M101 54V78M154 54V78"/><text class="tn" x="7" y="20">nd_protocol_reagent</text><text class="tt" x="199" y="20">[table]</text><text x="4" y="47">...</text><text x="5" y="71">&lt; 3</text></g>
<g id="t-biomaterial_relationship" transform="translate(449 2388)"><rect class="hd" width="230" height="30"/><rect class="bd" y="30" width="230" height="48"/><path class="ln" d="M0 54H230M112 54V78M171 54V78"/><text class="tn" x="7" y="20">biomaterial_relationship</text><text class="tt" x="223" y="20">[table]</text><text x="4" y="47">...</text><text x="5" y="71">&lt; 3</text></g>
<g id="t-cell_line_cvterm" transform="translate(809 2368)"><rect class="hd" width="173" height="30"/><rect class="bd" y="30" width="173" height="48"/><path class="ln" d="M0 54H173M77 54V78M119 54V78"/><text class="tn" x="7" y="20">cell_line_cvterm</text><text class="tt" x="166" y="20">[table]</text><text x="4" y="47">...</text><text x="5" y="71">&lt; 3</text><text class="tr" x="168" y="71">1 &gt;</text></g>
<g id="t-cell_line_cvtermprop" transform="translate(1106 2297)"><rect class="hd" width="207" height="30"/><rect class="bd" y="30" width="207" height="48"/><path class="ln" d="M0 54H207M102 54V78M154 54V78"/><text class="tn" x="7" y="20">cell_line_cvtermprop</text><text class="tt" x="200" y="20">[table]</text><text x="4" y="47">...</text><text x="5" y="71">&lt; 2</text></g>
<g id="t-biomaterialprop" transform="translate(479 2495)"><rect class="hd" width="172" height="30"/><rect class="bd" y="30" width="172" height="48"/><path class="ln" d="M0 54H172M84 54V78M129 54V78"/><text class="tn" x="7" y="20">biomaterialprop</text><text class="tt" x="165" y="20">[table]</text><text x="4" y="47">...</text><text x="5" y="71">&lt; 2</text></g>
<g id="t-cell_line_relationship" transform="translate(460 2710)"><rect class="hd" width="210" height="30"/><rect class="bd" y="30" width="210" height="48"/><path class="ln" d="M0 54H210M103 54V78M156 54V78"/><text class="tn" x="7" y="20">cell_line_relationship</text><text class="tt" x="203" y="20">[table]</text><text x="4" y="47">...</text><text x="5" y="71">&lt; 3</text></g>
<g id="t-cell_lineprop" transform="translate(489 2817)"><rect class="hd" width="150" height="30"/><rect class="bd" y="30" width="150" height="48"/><path class="ln" d="M0 54H150M67 54V78M103 54V78"/><text class="tn" x="7" y="20">cell_lineprop</text><text class="tt" x="143" y="20">[table]</text><text x="4" y="47">...</text><text x="5" y="71">&lt; 2</text><text class="tr" x="145" y="71">1 &gt;</text></g>
<g id="t-chadoprop" transform="translate(496 2924)"><rect class="hd" width="138" height="30"/><rect class="bd" y="30" width="138" height="48"/><path class="ln" d="M0 54H138M67 54V78M101 54V78"/><text class="tn" x="7" y="20">chadoprop</text><text class="tt" x="131" y="20">[table]</text><text x="4" y="47">...</text><text x="5" y="71">&lt; 1</text></g>
<g id="t-synonym" transform="translate(502 3068)"><rect class="hd" width="124" height="30"/><rect class="bd" y="30" width="124" height="48"/><path class="ln" d="M0 54H124M54 54V78M83 54V78"/><text class="tn" x="7" y="20">synonym</text><text class="tt" x="117" y="20">[table]</text><text x="4" y="47">...</text><text x="5" y="71">&lt; 1</text><text class="tr" x="119" y="71">3 &gt;</text></g>
<g id="t-cvterm_relationship" transform="translate(463 3248)"><rect class="hd" width="201" height="30"/><rect class="bd" y="30" width="201" height="48"/><path class="ln" d="M0 54H201M98 54V78M150 54V78"/><text class="tn" x="7" y="20">cvterm_relationship</text><text class="tt" x="194" y="20">[table]</text><text x="4" y="47">...</text><text x="5" y="71">&lt; 3</text></g>
<g id="t-cvtermprop" transform="translate(493 3355)"><rect class="hd" width="142" height="30"/><rect class="bd" y="30" width="142" height="48"/><path class="ln" d="M0 54H142M68 54V78M104 54V78"/><text class="tn" x="7" y="20">cvtermprop</text><text class="tt" x="135" y="20">[table]</text><text x="4" y="47">...</text><text x="5" y="71">&lt; 2</text></g>
<g id="t-cvtermsynonym" transform="translate(477 3461)"><rect class="hd" width="174" height="30"/><rect class="bd" y="30" width="174" height="48"/><path class="ln" d="M0 54H174M84 54V78M128 54V78"/><text class="tn" x="7" y="20">cvtermsynonym</text><text class="tt" x="167" y="20">[table]</text><text x="4" y="47">...</text><text x="5" y="71">&lt; 2</text></g>
<g id="t-dbprop" transform="translate(508 3568)"><rect class="hd" width="112" height="30"/><rect class="bd" y="30" width="112" height="48"/><path class="ln" d="M0 54H112M53 54V78M83 54V78"/><text class="tn" x="7" y="20">dbprop</text><text class="tt" x="105" y="20">[table]</text><text x="4" y="47">...</text><text x="5" y="71">&lt; 2</text></g>
<g id="t-organism_cvtermprop" transform="translate(1101 3635)"><rect class="hd" width="216" height="30"/><rect class="bd" y="30" width="216" height="48"/><path class="ln" d="M0 54H216M106 54V78M160 54V78"/><text class="tn" x="7" y="20">organism_cvtermprop</text><text class="tt" x="209" y="20">[table]</text><text x="4" y="47">...</text><text x="5" y="71">&lt; 2</text></g>
<g id="t-phenotype_comparison_cvterm" transform="translate(755 3711)"><rect class="hd" width="281" height="30"/><rect class="bd" y="30" width="281" height="48"/><path class="ln" d="M0 54H281M138 54V78M209 54V78"/><text class="tn" x="7" y="20">phenotype_comparison_cvterm</text><text class="tt" x="274" y="20">[table]</text><text x="4" y="47">...</text><text x="5" y="71">&lt; 3</text></g>
<g id="t-elementresult_relationship" transform="translate(441 3748)"><rect class="hd" width="246" height="30"/><rect class="bd" y="30" width="246" height="48"/><path class="ln" d="M0 54H246M122 54V78M185 54V78"/><text class="tn" x="7" y="20">elementresult_relationship</text><text class="tt" x="239" y="20">[table]</text><text x="4" y="47">...</text><text x="5" y="71">&lt; 3</text></g>
<g id="t-environment_cvterm" transform="translate(462 3854)"><rect class="hd" width="204" height="30"/><rect class="bd" y="30" width="204" height="48"/><path class="ln" d="M0 54H204M99 54V78M151 54V78"/><text class="tn" x="7" y="20">environment_cvterm</text><text class="tt" x="197" y="20">[table]</text><text x="4" y="47">...</text><text x="5" y="71">&lt; 2</text></g>
<g id="t-cvterm" transform="translate(190 3887)"><rect class="hd" width="184" height="30"/><rect class="bd" y="30" width="184" height="195"/><path class="ln" d="M0 59.4H184M0 88.8H184M0 118.2H184M0 147.6H184M0 177H184M0 201H184M75 201V225M116 201V225"/><text class="tn" x="7" y="20">cvterm</text><text class="tt" x="177" y="20">[table]</text><use href="#pk" x="14" y="41"/><use href="#fk" x="14" y="70.4"/><use href="#fk" x="14" y="129.2"/><text x="29" y="50">cvterm_id</text><text x="29" y="79.4">cv_id</text><text x="29" y="108.8">name</text><text x="29" y="138.2">dbxref_id</text><text x="29" y="167.6">is_obsolete</text><text x="4" y="194">...</text><text x="5" y="218">&lt; 2</text><text class="tr" x="179" y="218">122 &gt;</text></g>
<g id="t-pub" transform="translate(520 4000)"><rect class="hd" width="88" height="30"/><rect class="bd" y="30" width="88" height="48"/><path class="ln" d="M0 54H88M33 54V78M50 54V78"/><text class="tn" x="7" y="20">pub</text><text class="tt" x="81" y="20">[table]</text><text x="4" y="47">...</text><text x="5" y="71">&lt; 1</text><text class="tr" x="83" y="71">47 &gt;</text></g>
<g id="t-pub_relationship" transform="translate(805 3818)"><rect class="hd" width="179" height="30"/><rect class="bd" y="30" width="179" height="48"/><path class="ln" d="M0 54H179M86 54V78M132 54V78"/><text class="tn" x="7" y="20">pub_relationship</text><text class="tt" x="172" y="20">[table]</text><text x="4" y="47">...</text><text x="5" y="71">&lt; 3</text></g>
<g id="t-organism_cvterm" transform="translate(804 3925)"><rect class="hd" width="183" height="30"/><rect class="bd" y="30" width="183" height="48"/><path class="ln" d="M0 54H183M82 54V78M127 54V78"/><text class="tn" x="7" y="20">organism_cvterm</text><text class="tt" x="176" y="20">[table]</text><text x="4" y="47">...</text><text x="5" y="71">&lt; 3</text><text class="tr" x="178" y="71">1 &gt;</text></g>
<g id="t-nd_reagent" transform="translate(1140 3779)"><rect class="hd" width="140" height="30"/><rect class="bd" y="30" width="140" height="48"/><path class="ln" d="M0 54H140M62 54V78M96 54V78"/><text class="tn" x="7" y="20">nd_reagent</text><text class="tt" x="133" y="20">[table]</text><text x="4" y="47">...</text><text x="5" y="71">&lt; 2</text><text class="tr" x="135" y="71">4 &gt;</text></g>
<g id="t-nd_reagent_relationship" transform="translate(1391 3780)"><rect class="hd" width="230" height="30"/><rect class="bd" y="30" width="230" height="48"/><path class="ln" d="M0 54H230M113 54V78M172 54V78"/><text class="tn" x="7" y="20">nd_reagent_relationship</text><text class="tt" x="223" y="20">[table]</text><text x="4" y="47">...</text><text x="5" y="71">&lt; 3</text></g>
<g id="t-library_cvterm" transform="translate(1130 3994)"><rect class="hd" width="161" height="30"/><rect class="bd" y="30" width="161" height="48"/><path class="ln" d="M0 54H161M78 54V78M119 54V78"/><text class="tn" x="7" y="20">library_cvterm</text><text class="tt" x="154" y="20">[table]</text><text x="4" y="47">...</text><text x="5" y="71">&lt; 3</text></g>
<g id="t-expressionprop" transform="translate(479 4105)"><rect class="hd" width="170" height="30"/><rect class="bd" y="30" width="170" height="48"/><path class="ln" d="M0 54H170M82 54V78M126 54V78"/><text class="tn" x="7" y="20">expressionprop</text><text class="tt" x="163" y="20">[table]</text><text x="4" y="47">...</text><text x="5" y="71">&lt; 2</text></g>
<g id="t-pubprop" transform="translate(836 4105)"><rect class="hd" width="120" height="30"/><rect class="bd" y="30" width="120" height="48"/><path class="ln" d="M0 54H120M58 54V78M88 54V78"/><text class="tn" x="7" y="20">pubprop</text><text class="tt" x="113" y="20">[table]</text><text x="4" y="47">...</text><text x="5" y="71">&lt; 2</text></g>
<g id="t-stock_cvterm" transform="translate(1132 4141)"><rect class="hd" width="154" height="30"/><rect class="bd" y="30" width="154" height="48"/><path class="ln" d="M0 54H154M70 54V78M105 54V78"/><text class="tn" x="7" y="20">stock_cvterm</text><text class="tt" x="147" y="20">[table]</text><text x="4" y="47">...</text><text x="5" y="71">&lt; 3</text><text class="tr" x="149" y="71">1 &gt;</text></g>
<g id="t-stock_cvtermprop" transform="translate(1412 4174)"><rect class="hd" width="188" height="30"/><rect class="bd" y="30" width="188" height="48"/><path class="ln" d="M0 54H188M92 54V78M140 54V78"/><text class="tn" x="7" y="20">stock_cvtermprop</text><text class="tt" x="181" y="20">[table]</text><text x="4" y="47">...</text><text x="5" y="71">&lt; 2</text></g>
<g id="t-feature_expressionprop" transform="translate(452 4321)"><rect class="hd" width="226" height="30"/><rect class="bd" y="30" width="226" height="48"/><path class="ln" d="M0 54H226M111 54V78M168 54V78"/><text class="tn" x="7" y="20">feature_expressionprop</text><text class="tt" x="219" y="20">[table]</text><text x="4" y="47">...</text><text x="5" y="71">&lt; 2</text></g>
<g id="t-feature_pubprop" transform="translate(477 4502)"><rect class="hd" width="176" height="30"/><rect class="bd" y="30" width="176" height="48"/><path class="ln" d="M0 54H176M86 54V78M132 54V78"/><text class="tn" x="7" y="20">feature_pubprop</text><text class="tt" x="169" y="20">[table]</text><text x="4" y="47">...</text><text x="5" y="71">&lt; 2</text></g>
<g id="t-phendesc" transform="translate(831 4537)"><rect class="hd" width="129" height="30"/><rect class="bd" y="30" width="129" height="48"/><path class="ln" d="M0 54H129M62 54V78M96 54V78"/><text class="tn" x="7" y="20">phendesc</text><text class="tt" x="122" y="20">[table]</text><text x="4" y="47">...</text><text x="5" y="71">&lt; 4</text></g>
<g id="t-nd_reagentprop" transform="translate(1418 4548)"><rect class="hd" width="174" height="30"/><rect class="bd" y="30" width="174" height="48"/><path class="ln" d="M0 54H174M85 54V78M129 54V78"/><text class="tn" x="7" y="20">nd_reagentprop</text><text class="tt" x="167" y="20">[table]</text><text x="4" y="47">...</text><text x="5" y="71">&lt; 2</text></g>
<g id="t-genotype" transform="translate(501 4682)"><rect class="hd" width="125" height="30"/><rect class="bd" y="30" width="125" height="48"/><path class="ln" d="M0 54H125M55 54V78M86 54V78"/><text class="tn" x="7" y="20">genotype</text><text class="tt" x="118" y="20">[table]</text><text x="4" y="47">...</text><text x="5" y="71">&lt; 1</text><text class="tr" x="120" y="71">8 &gt;</text></g>
<g id="t-phenstatement" transform="translate(813 4718)"><rect class="hd" width="164" height="30"/><rect class="bd" y="30" width="164" height="48"/><path class="ln" d="M0 54H164M78 54V78M122 54V78"/><text class="tn" x="7" y="20">phenstatement</text><text class="tt" x="157" y="20">[table]</text><text x="4" y="47">...</text><text x="5" y="71">&lt; 5</text></g>
<g id="t-feature_genotype" transform="translate(1119 4778)"><rect class="hd" width="182" height="30"/><rect class="bd" y="30" width="182" height="48"/><path class="ln" d="M0 54H182M88 54V78M136 54V78"/><text class="tn" x="7" y="20">feature_genotype</text><text class="tt" x="175" y="20">[table]</text><text x="4" y="47">...</text><text x="5" y="71">&lt; 4</text></g>
<g id="t-featureposprop" transform="translate(480 4861)"><rect class="hd" width="169" height="30"/><rect class="bd" y="30" width="169" height="48"/><path class="ln" d="M0 54H169M83 54V78M125 54V78"/><text class="tn" x="7" y="20">featureposprop</text><text class="tt" x="162" y="20">[table]</text><text x="4" y="47">...</text><text x="5" y="71">&lt; 2</text></g>
<g id="t-feature" transform="translate(841 5002)"><rect class="hd" width="107" height="30"/><rect class="bd" y="30" width="107" height="48"/><path class="ln" d="M0 54H107M42 54V78M66 54V78"/><text class="tn" x="7" y="20">feature</text><text class="tt" x="100" y="20">[table]</text><text x="4" y="47">...</text><text x="5" y="71">&lt; 3</text><text class="tr" x="102" y="71">30 &gt;</text></g>
<g id="t-feature_relationship" transform="translate(1110 5002)"><rect class="hd" width="200" height="30"/><rect class="bd" y="30" width="200" height="48"/><path class="ln" d="M0 54H200M90 54V78M140 54V78"/><text class="tn" x="7" y="20">feature_relationship</text><text class="tt" x="193" y="20">[table]</text><text x="4" y="47">...</text><text x="5" y="71">&lt; 3</text><text class="tr" x="195" y="71">2 &gt;</text></g>
<g id="t-library_expressionprop" transform="translate(452 5041)"><rect class="hd" width="223" height="30"/><rect class="bd" y="30" width="223" height="48"/><path class="ln" d="M0 54H223M109 54V78M167 54V78"/><text class="tn" x="7" y="20">library_expressionprop</text><text class="tt" x="216" y="20">[table]</text><text x="4" y="47">...</text><text x="5" y="71">&lt; 2</text></g>
<g id="t-library_featureprop" transform="translate(467 5149)"><rect class="hd" width="195" height="30"/><rect class="bd" y="30" width="195" height="48"/><path class="ln" d="M0 54H195M96 54V78M145 54V78"/><text class="tn" x="7" y="20">library_featureprop</text><text class="tt" x="188" y="20">[table]</text><text x="4" y="47">...</text><text x="5" y="71">&lt; 2</text></g>
<g id="t-genotypeprop" transform="translate(816 5145)"><rect class="hd" width="158" height="30"/><rect class="bd" y="30" width="158" height="48"/><path class="ln" d="M0 54H158M77 54V78M117 54V78"/><text class="tn" x="7" y="20">genotypeprop</text><text class="tt" x="151" y="20">[table]</text><text x="4" y="47">...</text><text x="5" y="71">&lt; 2</text></g>
<g id="t-nd_experiment_stockprop" transform="translate(1384 5214)"><rect class="hd" width="244" height="30"/><rect class="bd" y="30" width="244" height="48"/><path class="ln" d="M0 54H244M120 54V78M182 54V78"/><text class="tn" x="7" y="20">nd_experiment_stockprop</text><text class="tt" x="237" y="20">[table]</text><text x="4" y="47">...</text><text x="5" y="71">&lt; 2</text></g>
<g id="t-expression_cvtermprop" transform="translate(782 5252)"><rect class="hd" width="225" height="30"/><rect class="bd" y="30" width="225" height="48"/><path class="ln" d="M0 54H225M109 54V78M168 54V78"/><text class="tn" x="7" y="20">expression_cvtermprop</text><text class="tt" x="218" y="20">[table]</text><text x="4" y="47">...</text><text x="5" y="71">&lt; 2</text></g>
<g id="t-studyprop_feature" transform="translate(1115 5291)"><rect class="hd" width="189" height="30"/><rect class="bd" y="30" width="189" height="48"/><path class="ln" d="M0 54H189M91 54V78M140 54V78"/><text class="tn" x="7" y="20">studyprop_feature</text><text class="tt" x="182" y="20">[table]</text><text x="4" y="47">...</text><text x="5" y="71">&lt; 3</text></g>
<g id="t-expression_cvterm" transform="translate(468 5328)"><rect class="hd" width="193" height="30"/><rect class="bd" y="30" width="193" height="48"/><path class="ln" d="M0 54H193M88 54V78M136 54V78"/><text class="tn" x="7" y="20">expression_cvterm</text><text class="tt" x="186" y="20">[table]</text><text x="4" y="47">...</text><text x="5" y="71">&lt; 3</text><text class="tr" x="188" y="71">1 &gt;</text></g>
<g id="t-organismprop" transform="translate(815 5359)"><rect class="hd" width="159" height="30"/><rect class="bd" y="30" width="159" height="48"/><path class="ln" d="M0 54H159M71 54V78M101 54V78"/><text class="tn" x="7" y="20">organismprop</text><text class="tt" x="152" y="20">[table]</text><text x="4" y="47">...</text><text x="5" y="71">&lt; 2</text><text class="tr" x="154" y="71">1 &gt;</text></g>
<g id="t-featureprop" transform="translate(1139 5397)"><rect class="hd" width="142" height="30"/><rect class="bd" y="30" width="142" height="48"/><path class="ln" d="M0 54H142M63 54V78M94 54V78"/><text class="tn" x="7" y="20">featureprop</text><text class="tt" x="135" y="20">[table]</text><text x="4" y="47">...</text><text x="5" y="71">&lt; 2</text><text class="tr" x="137" y="71">1 &gt;</text></g>
<g id="t-organism_relationship" transform="translate(787 5465)"><rect class="hd" width="216" height="30"/><rect class="bd" y="30" width="216" height="48"/><path class="ln" d="M0 54H216M106 54V78M160 54V78"/><text class="tn" x="7" y="20">organism_relationship</text><text class="tt" x="209" y="20">[table]</text><text x="4" y="47">...</text><text x="5" y="71">&lt; 3</text></g>
<g id="t-organism" transform="translate(501 5508)"><rect class="hd" width="126" height="30"/><rect class="bd" y="30" width="126" height="48"/><path class="ln" d="M0 54H126M52 54V78M79 54V78"/><text class="tn" x="7" y="20">organism</text><text class="tt" x="119" y="20">[table]</text><text x="4" y="47">...</text><text x="5" y="71">&lt; 1</text><text class="tr" x="121" y="71">14 &gt;</text></g>
<g id="t-feature_cvterm" transform="translate(1127 5504)"><rect class="hd" width="165" height="30"/><rect class="bd" y="30" width="165" height="48"/><path class="ln" d="M0 54H165M75 54V78M111 54V78"/><text class="tn" x="7" y="20">feature_cvterm</text><text class="tt" x="158" y="20">[table]</text><text x="4" y="47">...</text><text x="5" y="71">&lt; 3</text><text class="tr" x="160" y="71">3 &gt;</text></g>
<g id="t-feature_relationshipprop" transform="translate(1390 5554)"><rect class="hd" width="232" height="30"/><rect class="bd" y="30" width="232" height="48"/><path class="ln" d="M0 54H232M107 54V78M164 54V78"/><text class="tn" x="7" y="20">feature_relationshipprop</text><text class="tt" x="225" y="20">[table]</text><text x="4" y="47">...</text><text x="5" y="71">&lt; 2</text><text class="tr" x="227" y="71">1 &gt;</text></g>
<g id="t-studyprop" transform="translate(828 5572)"><rect class="hd" width="133" height="30"/><rect class="bd" y="30" width="133" height="48"/><path class="ln" d="M0 54H133M60 54V78M92 54V78"/><text class="tn" x="7" y="20">studyprop</text><text class="tt" x="126" y="20">[table]</text><text x="4" y="47">...</text><text x="5" y="71">&lt; 2</text><text class="tr" x="128" y="71">1 &gt;</text></g>
<g id="t-nd_experiment_stock" transform="translate(1105 5611)"><rect class="hd" width="210" height="30"/><rect class="bd" y="30" width="210" height="48"/><path class="ln" d="M0 54H210M96 54V78M147 54V78"/><text class="tn" x="7" y="20">nd_experiment_stock</text><text class="tt" x="203" y="20">[table]</text><text x="4" y="47">...</text><text x="5" y="71">&lt; 3</text><text class="tr" x="205" y="71">2 &gt;</text></g>
<g id="t-nd_geolocationprop" transform="translate(464 5688)"><rect class="hd" width="201" height="30"/><rect class="bd" y="30" width="201" height="48"/><path class="ln" d="M0 54H201M99 54V78M149 54V78"/><text class="tn" x="7" y="20">nd_geolocationprop</text><text class="tt" x="194" y="20">[table]</text><text x="4" y="47">...</text><text x="5" y="71">&lt; 2</text></g>
<g id="t-stock_feature" transform="translate(1132 5717)"><rect class="hd" width="156" height="30"/><rect class="bd" y="30" width="156" height="48"/><path class="ln" d="M0 54H156M75 54V78M116 54V78"/><text class="tn" x="7" y="20">stock_feature</text><text class="tt" x="149" y="20">[table]</text><text x="4" y="47">...</text><text x="5" y="71">&lt; 3</text></g>
<g id="t-feature_cvtermprop" transform="translate(1407 5795)"><rect class="hd" width="198" height="30"/><rect class="bd" y="30" width="198" height="48"/><path class="ln" d="M0 54H198M97 54V78M148 54V78"/><text class="tn" x="7" y="20">feature_cvtermprop</text><text class="tt" x="191" y="20">[table]</text><text x="4" y="47">...</text><text x="5" y="71">&lt; 2</text></g>
<g id="t-stock_relationship" transform="translate(1114 5861)"><rect class="hd" width="190" height="30"/><rect class="bd" y="30" width="190" height="48"/><path class="ln" d="M0 54H190M87 54V78M134 54V78"/><text class="tn" x="7" y="20">stock_relationship</text><text class="tt" x="183" y="20">[table]</text><text x="4" y="47">...</text><text x="5" y="71">&lt; 3</text><text class="tr" x="185" y="71">2 &gt;</text></g>
<g id="t-stock" transform="translate(845 5896)"><rect class="hd" width="98" height="30"/><rect class="bd" y="30" width="98" height="48"/><path class="ln" d="M0 54H98M35 54V78M62 54V78"/><text class="tn" x="7" y="20">stock</text><text class="tt" x="91" y="20">[table]</text><text x="4" y="47">...</text><text x="5" y="71">&lt; 3</text><text class="tr" x="93" y="71">13 &gt;</text></g>
<g id="t-stockprop" transform="translate(1144 5968)"><rect class="hd" width="132" height="30"/><rect class="bd" y="30" width="132" height="48"/><path class="ln" d="M0 54H132M58 54V78M89 54V78"/><text class="tn" x="7" y="20">stockprop</text><text class="tt" x="125" y="20">[table]</text><text x="4" y="47">...</text><text x="5" y="71">&lt; 2</text><text class="tr" x="127" y="71">1 &gt;</text></g>
<g id="t-stock_relationship_cvterm" transform="translate(1383 6036)"><rect class="hd" width="245" height="30"/><rect class="bd" y="30" width="245" height="48"/><path class="ln" d="M0 54H245M119 54V78M182 54V78"/><text class="tn" x="7" y="20">stock_relationship_cvterm</text><text class="tt" x="238" y="20">[table]</text><text x="4" y="47">...</text><text x="5" y="71">&lt; 3</text></g>
<g id="t-library" transform="translate(844 6148)"><rect class="hd" width="104" height="30"/><rect class="bd" y="30" width="104" height="48"/><path class="ln" d="M0 54H104M39 54V78M62 54V78"/><text class="tn" x="7" y="20">library</text><text class="tt" x="97" y="20">[table]</text><text x="4" y="47">...</text><text x="5" y="71">&lt; 2</text><text class="tr" x="99" y="71">12 &gt;</text></g>
<g id="t-library_relationship" transform="translate(1110 6148)"><rect class="hd" width="198" height="30"/><rect class="bd" y="30" width="198" height="48"/><path class="ln" d="M0 54H198M91 54V78M138 54V78"/><text class="tn" x="7" y="20">library_relationship</text><text class="tt" x="191" y="20">[table]</text><text x="4" y="47">...</text><text x="5" y="71">&lt; 3</text><text class="tr" x="193" y="71">1 &gt;</text></g>
<g id="t-nd_experiment" transform="translate(481 6254)"><rect class="hd" width="165" height="30"/><rect class="bd" y="30" width="165" height="48"/><path class="ln" d="M0 54H165M71 54V78M108 54V78"/><text class="tn" x="7" y="20">nd_experiment</text><text class="tt" x="158" y="20">[table]</text><text x="4" y="47">...</text><text x="5" y="71">&lt; 2</text><text class="tr" x="160" y="71">10 &gt;</text></g>
<g id="t-nd_experiment_analysis" transform="translate(780 6254)"><rect class="hd" width="229" height="30"/><rect class="bd" y="30" width="229" height="48"/><path class="ln" d="M0 54H229M111 54V78M171 54V78"/><text class="tn" x="7" y="20">nd_experiment_analysis</text><text class="tt" x="222" y="20">[table]</text><text x="4" y="47">...</text><text x="5" y="71">&lt; 3</text></g>
<g id="t-nd_experimentprop" transform="translate(796 6361)"><rect class="hd" width="197" height="30"/><rect class="bd" y="30" width="197" height="48"/><path class="ln" d="M0 54H197M95 54V78M147 54V78"/><text class="tn" x="7" y="20">nd_experimentprop</text><text class="tt" x="190" y="20">[table]</text><text x="4" y="47">...</text><text x="5" y="71">&lt; 2</text></g>
<g id="t-libraryprop" transform="translate(1140 6344)"><rect class="hd" width="138" height="30"/><rect class="bd" y="30" width="138" height="48"/><path class="ln" d="M0 54H138M62 54V78M93 54V78"/><text class="tn" x="7" y="20">libraryprop</text><text class="tt" x="131" y="20">[table]</text><text x="4" y="47">...</text><text x="5" y="71">&lt; 2</text><text class="tr" x="133" y="71">1 &gt;</text></g>
<g id="t-featuremapprop" transform="translate(808 6577)"><rect class="hd" width="173" height="30"/><rect class="bd" y="30" width="173" height="48"/><path class="ln" d="M0 54H173M83 54V78M127 54V78"/><text class="tn" x="7" y="20">featuremapprop</text><text class="tt" x="166" y="20">[table]</text><text x="4" y="47">...</text><text x="5" y="71">&lt; 2</text></g>
<g id="t-featuremap" transform="translate(495 6594)"><rect class="hd" width="139" height="30"/><rect class="bd" y="30" width="139" height="48"/><path class="ln" d="M0 54H139M61 54V78M94 54V78"/><text class="tn" x="7" y="20">featuremap</text><text class="tt" x="132" y="20">[table]</text><text x="4" y="47">...</text><text x="5" y="71">&lt; 1</text><text class="tr" x="134" y="71">8 &gt;</text></g>
<g id="t-stock_featuremap" transform="translate(1117 6645)"><rect class="hd" width="185" height="30"/><rect class="bd" y="30" width="185" height="48"/><path class="ln" d="M0 54H185M90 54V78M137 54V78"/><text class="tn" x="7" y="20">stock_featuremap</text><text class="tt" x="178" y="20">[table]</text><text x="4" y="47">...</text><text x="5" y="71">&lt; 3</text></g>
<g id="t-project_relationship" transform="translate(464 6811)"><rect class="hd" width="201" height="30"/><rect class="bd" y="30" width="201" height="48"/><path class="ln" d="M0 54H201M99 54V78M149 54V78"/><text class="tn" x="7" y="20">project_relationship</text><text class="tt" x="194" y="20">[table]</text><text x="4" y="47">...</text><text x="5" y="71">&lt; 3</text></g>
<g id="t-phenotype_cvterm" transform="translate(800 6897)"><rect class="hd" width="190" height="30"/><rect class="bd" y="30" width="190" height="48"/><path class="ln" d="M0 54H190M93 54V78M141 54V78"/><text class="tn" x="7" y="20">phenotype_cvterm</text><text class="tt" x="183" y="20">[table]</text><text x="4" y="47">...</text><text x="5" y="71">&lt; 2</text></g>
<g id="t-projectprop" transform="translate(494 6917)"><rect class="hd" width="141" height="30"/><rect class="bd" y="30" width="141" height="48"/><path class="ln" d="M0 54H141M69 54V78M105 54V78"/><text class="tn" x="7" y="20">projectprop</text><text class="tt" x="134" y="20">[table]</text><text x="4" y="47">...</text><text x="5" y="71">&lt; 2</text></g>
<g id="t-phenotype" transform="translate(497 7024)"><rect class="hd" width="134" height="30"/><rect class="bd" y="30" width="134" height="48"/><path class="ln" d="M0 54H134M59 54V78M92 54V78"/><text class="tn" x="7" y="20">phenotype</text><text class="tt" x="127" y="20">[table]</text><text x="4" y="47">...</text><text x="5" y="71">&lt; 4</text><text class="tr" x="129" y="71">7 &gt;</text></g>
<g id="t-phenotypeprop" transform="translate(811 7057)"><rect class="hd" width="167" height="30"/><rect class="bd" y="30" width="167" height="48"/><path class="ln" d="M0 54H167M80 54V78M124 54V78"/><text class="tn" x="7" y="20">phenotypeprop</text><text class="tt" x="160" y="20">[table]</text><text x="4" y="47">...</text><text x="5" y="71">&lt; 2</text></g>
<g id="t-cv" transform="translate(31 7167)"><rect class="hd" width="78" height="30"/><rect class="bd" y="30" width="78" height="48"/><path class="ln" d="M0 54H78M23 54V78M43 54V78"/><text class="tn" x="7" y="20">cv</text><text class="tt" x="71" y="20">[table]</text><text x="4" y="47">...</text><text class="tr" x="73" y="71">3 &gt;</text></g>
<g id="t-cvtermpath" transform="translate(495 7167)"><rect class="hd" width="139" height="30"/><rect class="bd" y="30" width="139" height="48"/><path class="ln" d="M0 54H139M68 54V78M104 54V78"/><text class="tn" x="7" y="20">cvtermpath</text><text class="tt" x="132" y="20">[table]</text><text x="4" y="47">...</text><text x="5" y="71">&lt; 4</text></g>
<g id="t-cvprop" transform="translate(509 7274)"><rect class="hd" width="109" height="30"/><rect class="bd" y="30" width="109" height="48"/><path class="ln" d="M0 54H109M52 54V78M81 54V78"/><text class="tn" x="7" y="20">cvprop</text><text class="tt" x="102" y="20">[table]</text><text x="4" y="47">...</text><text x="5" y="71">&lt; 2</text></g>
<g id="t-tableinfo" transform="translate(1406 6846)"><rect class="hd" width="199" height="30"/><rect class="bd" y="30" width="199" height="106.8"/><path class="ln" d="M0 59.4H199M0 88.8H199M0 112.8H199M86 112.8V136.8M137 112.8V136.8"/><text class="tn" x="7" y="20">tableinfo</text><text class="tt" x="192" y="20">[table]</text><use href="#pk" x="14" y="41"/><text x="29" y="50">tableinfo_id</text><text x="29" y="79.4">name</text><text x="4" y="105.8">...</text><text class="tr" x="194" y="129.8">2 &gt;</text></g>
<g id="t-control" transform="translate(1695 6630)"><rect class="hd" width="250" height="33"/><rect class="bd" y="33" width="250" height="259"/><path class="ln" d="M0 62.3H250M0 91.6H250M0 120.9H250M0 150.2H250M0 179.5H250M0 208.8H250M0 238.1H250M0 267.4H250M129 33V292M72 267.4V292"/><rect width="250" height="292" fill="none" stroke="#000" stroke-width="3.2"/><text class="tn" x="10" y="21">control</text><text class="tt" x="241" y="21">[table]</text><use href="#pk" x="16" y="44"/><use href="#fk" x="16" y="73.3"/><use href="#fk" x="16" y="102.6"/><use href="#fk" x="16" y="131.9"/><text x="30" y="53">control_id</text><text x="133" y="53">bigserial[19]</text><text x="30" y="82.3">type_id</text><text x="133" y="82.3">int8[19]</text><text x="30" y="111.6">assay_id</text><text x="133" y="111.6">int8[19]</text><text x="30" y="140.9">tableinfo_id</text><text x="133" y="140.9">int8[19]</text><text x="30" y="170.2">row_id</text><text x="133" y="170.2">int4[10]</text><text x="30" y="199.5">name</text><text x="133" y="199.5">text[2147483647]</text><text x="30" y="228.8">value</text><text x="133" y="228.8">text[2147483647]</text><text x="30" y="258.1">rank</text><text x="133" y="258.1">int4[10]</text><text x="5" y="285">&lt; 3</text><text class="tr" x="245" y="285">0 &gt;</text></g>
<g id="t-magedocumentation" transform="translate(1719 6952)"><rect class="hd" width="204" height="30"/><rect class="bd" y="30" width="204" height="48"/><path class="ln" d="M0 54H204M100 54V78M152 54V78"/><text class="tn" x="7" y="20">magedocumentation</text><text class="tt" x="197" y="20">[table]</text><text x="4" y="47">...</text><text x="5" y="71">&lt; 2</text></g>
<text id="footer-note" x="15" y="7393">Generated by SchemaSpy</text>
</svg>
